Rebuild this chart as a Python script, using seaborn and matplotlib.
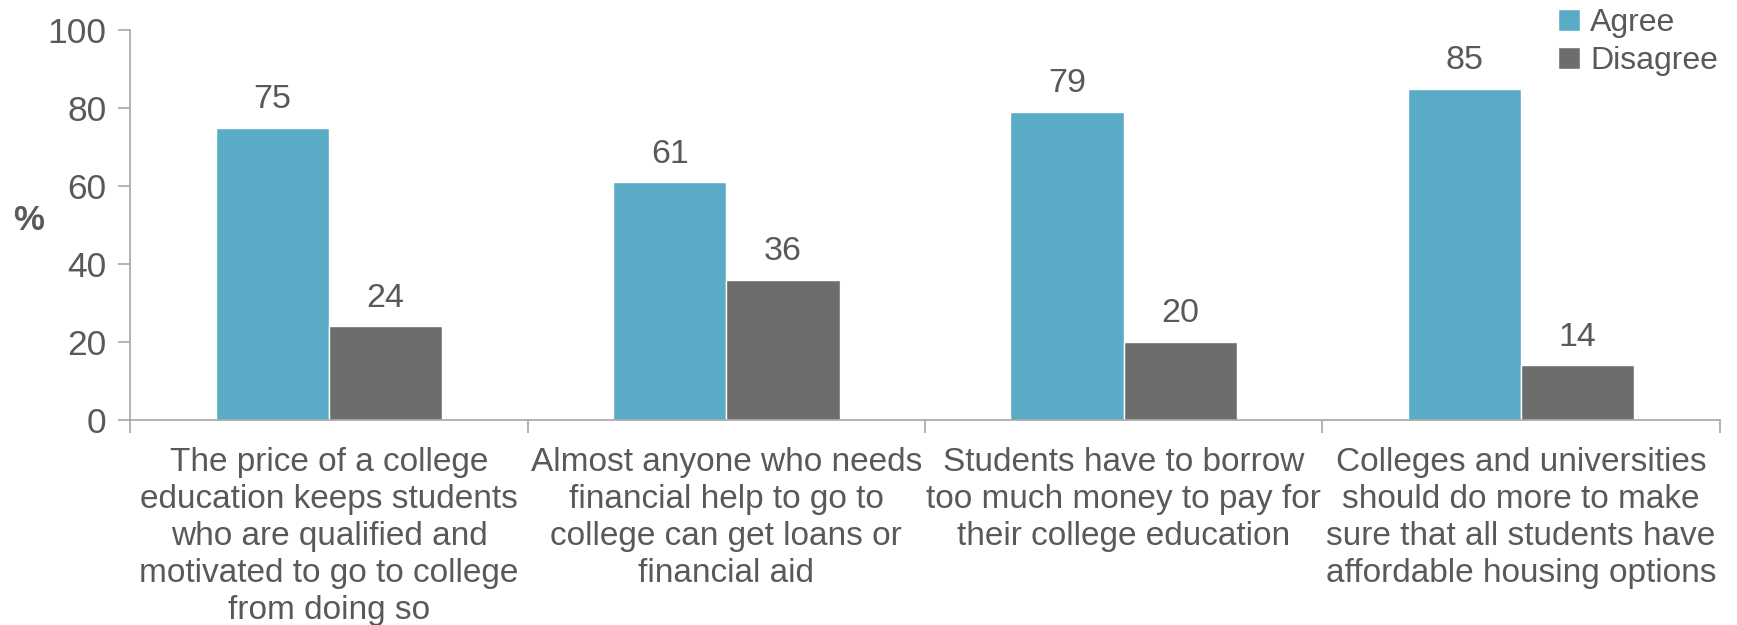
import numpy as np
import pandas as pd
import matplotlib.pyplot as plt
import seaborn as sns

# %% data
statements = [
    "The price of a college\neducation keeps students\nwho are qualified and\nmotivated to go to college\nfrom doing so",
    "Almost anyone who needs\nfinancial help to go to\ncollege can get loans or\nfinancial aid",
    "Students have to borrow\ntoo much money to pay for\ntheir college education",
    "Colleges and universities\nshould do more to make\nsure that all students have\naffordable housing options",
]
agree = [75, 61, 79, 85]
disagree = [24, 36, 20, 14]
responses = ["Agree", "Disagree"]
colors = ["#5AACC6", "#6D6E6B"]

df = pd.DataFrame({
    "statement": statements * 2,
    "response": ["Agree"] * 4 + ["Disagree"] * 4,
    "value": agree + disagree,
})

# %% plot
sns.set_style("white")
plt.rcParams["font.family"] = ["Liberation Sans", "DejaVu Sans"]
text_color = "#595959"
spine_color = "#A6A6A6"

fig = plt.figure(figsize=(17.37, 6.25), dpi=100)
ax = fig.add_axes([0.075, 0.328, 0.915, 0.624])

sns.barplot(data=df, x="statement", y="value", hue="response",
            hue_order=responses, palette=colors, width=0.57,
            saturation=1, ax=ax, legend=True)

for container in ax.containers:
    ax.bar_label(container, fmt="%d", padding=9, fontsize=24.5, color=text_color)

ax.set_ylim(0, 100)
ax.set_xlim(-0.5, 3.5)
ax.set_yticks(np.arange(0, 101, 20))
ax.set_xlabel("")
ax.set_ylabel("%", fontsize=25, fontweight="bold", color=text_color,
              rotation=0)
ax.yaxis.set_label_coords(-0.064, 0.47)

# category boundary ticks
ax.set_xticks(np.arange(-0.5, 3.6, 1), minor=True)
ax.tick_params(axis="x", which="major", bottom=False, labelsize=24,
               colors=text_color, pad=16)
ax.tick_params(axis="x", which="minor", bottom=True, length=9, width=1.2,
               color=spine_color, direction="out")
ax.tick_params(axis="y", left=True, length=9, width=1.2, color=spine_color,
               labelsize=25.5, labelcolor=text_color, pad=8, direction="out")
for lab in ax.get_xticklabels():
    lab.set_linespacing(1.25)

for side in ["top", "right"]:
    ax.spines[side].set_visible(False)
for side in ["left", "bottom"]:
    ax.spines[side].set_color(spine_color)
    ax.spines[side].set_linewidth(1.2)

# legend
handles, labels = ax.get_legend_handles_labels()
ax.get_legend().remove()
fig.legend(handles, labels, loc="upper right", bbox_to_anchor=(1.0, 1.018),
           frameon=False, fontsize=23, labelcolor=text_color,
           handlelength=0.7, handleheight=0.7, handletextpad=0.3,
           labelspacing=0.25, borderaxespad=0.2)

plt.savefig("out.png", dpi=100)
